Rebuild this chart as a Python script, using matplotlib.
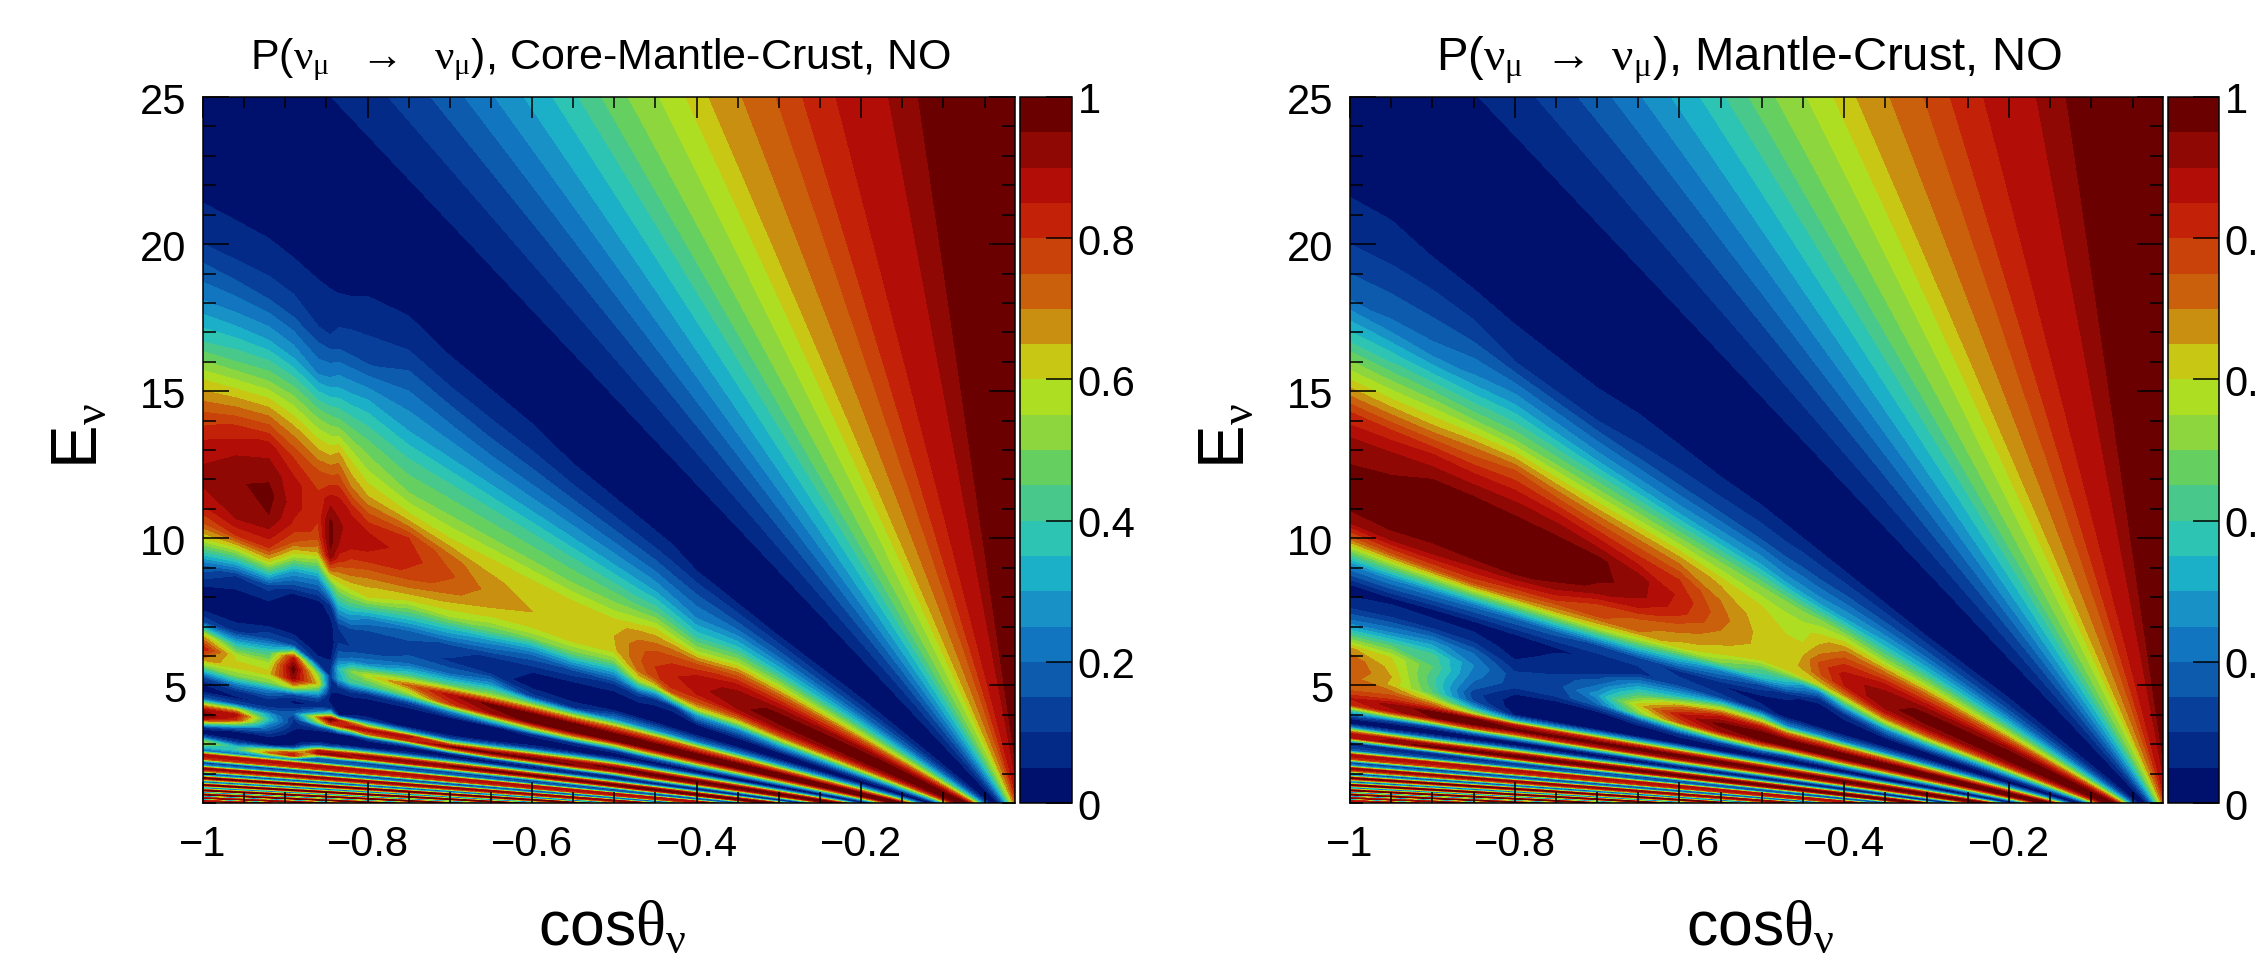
import numpy as np
import matplotlib
matplotlib.use('Agg')
import matplotlib.pyplot as plt
from matplotlib.ticker import MultipleLocator

plt.rcParams['font.family'] = ['Liberation Sans', 'DejaVu Sans']
plt.rcParams['mathtext.fontset'] = 'custom'
plt.rcParams['mathtext.rm'] = 'Liberation Serif'
plt.rcParams['mathtext.it'] = 'Liberation Serif'
plt.rcParams['mathtext.default'] = 'rm'

# band colours of the palette, bottom to top, one per 0.05
band_colors = ['#00116d', '#032a87', '#073f9b', '#0c5bac', '#1175c0', '#1892c6', '#1cb0c8',
               '#2dc4b3', '#48c88a', '#65cf60', '#8ed63e', '#aede22', '#c8c814', '#c98f10',
               '#cb600c', '#c8420a', '#c42208', '#b20d06', '#8f0803', '#6b0000']

# table rows: |cos| / E along a ray through the origin, values in percent
ray_rows = [.0003, .005, .01, .015, .02, .025, .03, .035, .04, .045, .05, .055, .06, .065, .07, .075, .08,
            .085, .09, .095, .10, .11, .12, .13, .14, .15, .16, .17, .18, .19, .20, .21, .22, .23, .24,
            .25, .26, .27, .28, .29, .30, .31, .32, .33, .34]
top_rows = [100, 96, 84, 67, 48, 28, 12, 3, 1]

left_cos = [1, .96, .92, .89, .86, .845, .835, .82, .8, .75, .7, .65, .6, .55, .5, .47, .45, .43, .4]
left_table = [
    [2, 3, 4, 4, 4, 4, 4, 5, 6, 8, 7, 7, 7, 6, 6, 6, 6, 6, 5],
    [10, 11, 12, 12, 10, 10, 12, 13, 14, 20, 19, 18, 18, 18, 18, 18, 18, 17, 16],
    [24, 27, 30, 29, 24, 26, 29, 30, 32, 30, 30, 30, 30, 30, 30, 30, 30, 28, 25],
    [40, 45, 50, 50, 46, 46, 47, 46, 45, 42, 42, 42, 42, 42, 42, 42, 44, 42, 38],
    [60, 65, 70, 67, 62, 62, 66, 60, 55, 50, 50, 50, 50, 50, 52, 56, 60, 58, 55],
    [75, 82, 87, 80, 75, 76, 78, 70, 65, 62, 60, 60, 60, 60, 62, 68, 70, 72, 75],
    [85, 90, 93, 87, 81, 88, 88, 84, 78, 80, 72, 66, 63, 62, 65, 73, 78, 80, 85],
    [90, 94, 97, 87, 81, 96, 91, 88, 88, 82, 76, 68, 65, 63, 64, 74, 80, 84, 88],
    [90, 95, 95, 84, 78, 97, 90, 85, 84, 79, 72, 65, 62, 60, 52, 72, 78, 85, 85],
    [85, 90, 89, 75, 66, 93, 82, 77, 74, 70, 64, 58, 52, 48, 35, 60, 62, 75, 75],
    [75, 80, 80, 55, 45, 70, 68, 68, 66, 60, 56, 45, 32, 30, 20, 35, 30, 42, 60],
    [60, 55, 60, 30, 25, 45, 55, 58, 60, 45, 38, 28, 18, 14, 8, 12, 8, 8, 30],
    [20, 10, 12, 4, 3, 8, 30, 32, 25, 18, 14, 8, 5, 2, 1, 1, 1, 1, 2],
    [4, 2, 2, 1, 1, 3, 10, 12, 10, 12, 9, 8, 2, 1, 3, 3, 3, 2, 2],
    [1, 2, 3, 2, 1, 1, 10, 10, 12, 18, 20, 30, 12, 10, 25, 25, 25, 25, 22],
    [15, 8, 15, 14, 2, 2, 18, 22, 25, 40, 45, 55, 60, 62, 70, 72, 72, 72, 70],
    [65, 35, 40, 85, 10, 8, 35, 50, 58, 72, 88, 97, 100, 100, 98, 97, 96, 96, 95],
    [84, 58, 55, 98, 50, 10, 30, 42, 42, 50, 78, 90, 97, 98, 95, 95, 95, 95, 96],
    [68, 62, 62, 92, 62, 8, 8, 12, 10, 12, 25, 40, 55, 60, 50, 58, 60, 62, 65],
    [40, 50, 50, 60, 35, 4, 3, 3, 2, 2, 3, 4, 8, 10, 8, 15, 18, 20, 25],
    [13, 25, 25, 15, 12, 3, 1, 1, 1, 1, 1, 1, 1, 1, 1, 1, 1, 1, 2],
    [4, 8, 12, 3, 6, 8, 1, 1, 1, 1, 1, 1, 2, 3, 8, 8, 7, 7, 6],
    [5, 4, 5, 8, 25, 45, 5, 8, 10, 3, 1, 5, 12, 25, 40, 38, 37, 37, 37],
    [18, 15, 12, 18, 70, 98, 85, 70, 50, 30, 15, 25, 45, 65, 80, 80, 78, 77, 77],
    [60, 60, 30, 10, 50, 75, 80, 90, 88, 88, 55, 70, 85, 92, 98, 99, 99, 99, 99],
    [90, 88, 35, 8, 15, 20, 35, 40, 70, 82, 95, 97, 97, 95, 85, 88, 90, 90, 90],
    [98, 80, 25, 6, 3, 2, 3, 5, 15, 25, 60, 70, 65, 60, 48, 55, 58, 58, 58],
    [85, 50, 18, 3, 1, 1, 1, 1, 2, 2, 8, 15, 15, 15, 10, 18, 20, 20, 20],
    [45, 20, 12, 1, 2, 1, 1, 2, 2, 2, 1, 1, 2, 1, 2, 1, 0, 0, 0],
    [10, 4, 6, 0, 5, 3, 3, 5, 5, 8, 8, 8, 10, 12, 15, 14, 12, 12, 12],
    [2, 3, 2, 1, 15, 15, 20, 22, 25, 30, 35, 38, 40, 42, 45, 46, 46, 46, 46],
    [5, 3, 2, 3, 45, 50, 55, 60, 65, 70, 72, 75, 78, 80, 82, 84, 84, 84, 84],
    [20, 8, 5, 15, 85, 88, 88, 90, 92, 95, 95, 98, 98, 98, 99, 100, 100, 100, 100],
    [45, 20, 30, 50, 90, 92, 92, 90, 85, 85, 82, 80, 75, 78, 80, 85, 85, 85, 85],
    [55, 35, 60, 80, 55, 50, 55, 52, 45, 45, 42, 40, 38, 40, 42, 49, 49, 49, 49],
    [40, 40, 70, 85, 15, 15, 15, 13, 12, 12, 12, 12, 12, 12, 12, 13, 13, 13, 13],
]

right_cos = [1, .95, .9, .85, .8, .75, .7, .65, .6, .55, .5, .47, .45, .43, .4]
right_table = [
    [3, 4, 3, 3, 3, 3, 3, 4, 4, 4, 5, 5, 5, 5, 5],
    [10, 11, 12, 12, 10, 10, 10, 11, 12, 13, 14, 14, 15, 15, 16],
    [19, 21, 22, 26, 30, 29, 28, 28, 28, 29, 30, 28, 28, 28, 30],
    [40, 42, 45, 47, 50, 50, 50, 50, 50, 50, 50, 50, 50, 52, 54],
    [60, 62, 65, 70, 75, 72, 70, 69, 68, 64, 60, 58, 58, 62, 70],
    [80, 82, 85, 86, 88, 88, 85, 82, 80, 70, 62, 60, 60, 68, 80],
    [91, 93, 95, 96, 96, 96, 96, 92, 84, 72, 63, 62, 65, 76, 87],
    [95, 96, 98, 99, 99, 99, 97, 92, 82, 70, 63, 62, 66, 74, 85],
    [97, 98, 99, 100, 100, 100, 93, 85, 74, 66, 61, 60, 62, 62, 70],
    [97, 98, 97, 98, 98, 92, 80, 74, 68, 62, 45, 40, 28, 25, 48],
    [90, 92, 90, 88, 85, 80, 76, 70, 62, 50, 35, 25, 15, 8, 25],
    [72, 75, 76, 76, 70, 65, 60, 52, 40, 25, 14, 8, 4, 3, 8],
    [25, 26, 24, 22, 20, 18, 14, 12, 8, 5, 2, 1, 1, 1, 1],
    [2, 3, 2, 2, 3, 4, 6, 8, 13, 12, 8, 3, 3, 2, 2],
    [8, 10, 10, 8, 3, 7, 10, 28, 35, 55, 50, 25, 25, 25, 22],
    [22, 25, 28, 20, 6, 10, 20, 45, 68, 85, 85, 72, 72, 72, 70],
    [45, 45, 42, 25, 12, 12, 28, 62, 85, 97, 100, 97, 96, 96, 95],
    [66, 60, 45, 22, 12, 12, 20, 50, 75, 90, 95, 95, 95, 95, 96],
    [74, 63, 42, 18, 5, 3, 5, 15, 35, 55, 65, 58, 60, 62, 65],
    [75, 65, 42, 12, 2, 1, 1, 3, 8, 14, 20, 15, 18, 20, 25],
    [72, 64, 45, 14, 2, 0, 1, 1, 2, 1, 1, 1, 1, 1, 2],
    [72, 72, 60, 30, 4, 2, 3, 4, 5, 5, 6, 6, 6, 6, 6],
    [76, 80, 75, 55, 30, 30, 32, 33, 35, 35, 35, 35, 36, 36, 37],
    [85, 92, 97, 95, 85, 82, 80, 78, 77, 77, 77, 77, 77, 77, 77],
    [80, 88, 95, 99, 98, 98, 98, 99, 99, 99, 99, 99, 99, 99, 99],
    [42, 55, 60, 75, 72, 80, 85, 88, 90, 90, 90, 90, 90, 90, 90],
    [20, 15, 15, 25, 30, 35, 42, 50, 58, 58, 58, 58, 58, 58, 58],
    [3, 1, 0, 2, 3, 5, 8, 12, 20, 20, 20, 20, 20, 20, 20],
    [2, 2, 3, 3, 2, 1, 0, 0, 0, 0, 0, 0, 0, 0, 0],
    [25, 20, 20, 20, 18, 15, 12, 12, 12, 12, 12, 12, 12, 12, 12],
    [65, 60, 55, 55, 55, 50, 46, 46, 46, 46, 46, 46, 46, 46, 46],
    [90, 90, 88, 88, 88, 85, 84, 84, 84, 84, 84, 84, 84, 84, 84],
    [85, 92, 98, 98, 100, 100, 100, 100, 100, 100, 100, 100, 100, 100, 100],
    [40, 50, 60, 70, 80, 85, 85, 85, 85, 85, 85, 85, 85, 85, 85],
    [5, 10, 15, 25, 35, 45, 49, 49, 49, 49, 49, 49, 49, 49, 49],
    [10, 5, 3, 5, 8, 10, 13, 13, 13, 13, 13, 13, 13, 13, 13],
]

# near the horizon both panels look the same
far_cos = [.35, .3, .2, .1, .013]
far_table = [
    [5, 5, 6, 6, 6], [17, 18, 19, 19, 19], [33, 35, 37, 37, 37], [52, 55, 57, 57, 57],
    [72, 74, 76, 76, 76], [86, 88, 91, 91, 91], [93, 96, 99, 99, 99], [94, 97, 99, 99, 99],
    [88, 90, 91, 91, 91], [70, 76, 77, 77, 77], [50, 56, 58, 58, 58], [25, 33, 37, 37, 37],
    [3, 5, 6, 6, 6], [2, 2, 2, 2, 2], [25, 26, 27, 27, 27], [70, 68, 67, 67, 67],
    [96, 96, 96, 96, 96], [96, 96, 96, 96, 96], [65, 66, 67, 67, 67], [26, 28, 29, 29, 29],
    [2, 2, 3, 3, 3], [5, 6, 6, 6, 6], [37, 37, 37, 37, 37], [77, 77, 77, 77, 77],
    [99, 99, 99, 99, 99], [90, 90, 90, 90, 90], [58, 58, 58, 58, 58], [20, 20, 20, 20, 20],
    [0, 0, 0, 0, 0], [12, 12, 12, 12, 12], [46, 46, 46, 46, 46], [84, 84, 84, 84, 84],
    [100, 100, 100, 100, 100], [85, 85, 85, 85, 85], [49, 49, 49, 49, 49], [13, 13, 13, 13, 13],
]

# fast oscillations at low energy, same along every ray
stripe_rows = [.36, .38, .40, .42, .44, .46, .48, .50, .52, .54, .56, .58, .60, .62, .64, .66, .68,
               .70, .72, .74, .76, .78, .80, .82, .84, .86, .88, .90, .92, .94, .96, .98, 1.0]
stripe_vals = [18, 90, 78, 7, 26, 95, 69, 3, 35, 98, 60, 0, 45, 100, 49, 0, 55, 99, 40, 1, 65, 97,
               31, 5, 74, 93, 22, 10, 82, 87, 14, 16, 89]

x_major = [-1, -.8, -.6, -.4, -.2]
x_labels = ['\u22121', '\u22120.8', '\u22120.6', '\u22120.4', '\u22120.2']
y_major = [5, 10, 15, 20, 25]
bar_ticks = [0, .2, .4, .6, .8, 1]
bar_labels = ['0', '0.2', '0.4', '0.6', '0.8', '1']

W, H = 2257, 954


def build_grid(cos_list, table):
    cols = np.array(list(cos_list) + far_cos)
    rows = np.array(ray_rows + stripe_rows)
    top = np.tile(np.array(top_rows)[:, None], (1, len(cols)))
    mid = np.hstack([np.array(table), np.array(far_table)])
    low = np.tile(np.array(stripe_vals)[:, None], (1, len(cols)))
    vals = np.vstack([top, mid, low]) / 100.0
    X, U = np.meshgrid(cols, rows)
    return -X, X / U, np.minimum(vals, 0.999)


def panel(left, right, bar_left, bar_right, cos_list, table, title, title_x, title_size):
    ax = fig.add_axes([left / W, 1 - 804 / H, (right - left) / W, 706 / H])
    cax = fig.add_axes([bar_left / W, 1 - 804 / H, (bar_right - bar_left) / W, 706 / H])
    X, Y, Z = build_grid(cos_list, table)
    cs = ax.contourf(X, Y, Z, levels=np.arange(21) / 20.0, colors=band_colors)
    ax.set_xlim(-1, -0.013)
    ax.set_ylim(1, 25)
    ax.set_xticks(x_major)
    ax.set_xticklabels(x_labels)
    ax.set_yticks(y_major)
    ax.xaxis.set_minor_locator(MultipleLocator(0.05))
    ax.yaxis.set_minor_locator(MultipleLocator(1))
    ax.tick_params(axis='x', which='major', direction='in', top=True, length=15, width=1.1, labelsize=30, pad=15)
    ax.tick_params(axis='x', which='minor', direction='in', top=True, length=8, width=1.1)
    ax.tick_params(axis='y', which='major', direction='in', right=True, length=19, width=1.1, labelsize=30, pad=12)
    ax.tick_params(axis='y', which='minor', direction='in', right=True, length=9.5, width=1.1)
    for s in ax.spines.values():
        s.set_linewidth(1.1)

    cb = fig.colorbar(cs, cax=cax)
    cb.set_ticks(bar_ticks)
    cb.set_ticklabels(bar_labels)
    cb.minorticks_off()
    cax.tick_params(direction='in', right=True, length=19, width=1.1, labelsize=30, pad=4)
    cb.outline.set_linewidth(1.1)

    fig.text(title_x / W, 1 - 60 / H, title, ha='center', va='center', fontsize=title_size)
    fig.text((left + right) / 2 / W + 0.0015, 1 - 929 / H, r'cos$\mathrm{\theta_{\nu}}$', ha='center', va='center', fontsize=45)
    fig.text((left - 123) / W, 1 - 436 / H, r'E$\mathrm{_{\nu}}$', ha='center', va='center', rotation=90, fontsize=47)


fig = plt.figure(figsize=(W / 100, H / 100), dpi=100)
panel(203, 1015, 1020, 1072, left_cos, left_table,
      r'P($\mathrm{\nu_{\mu}}$  $\mathrm{\rightarrow}$  $\mathrm{\nu_{\mu}}$), Core-Mantle-Crust, NO', 601, 31)
panel(1350, 2163, 2168, 2219, right_cos, right_table,
      r'P($\mathrm{\nu_{\mu}}$ $\mathrm{\rightarrow}$ $\mathrm{\nu_{\mu}}$), Mantle-Crust, NO', 1749, 34)
fig.savefig('out.png', dpi=100)
